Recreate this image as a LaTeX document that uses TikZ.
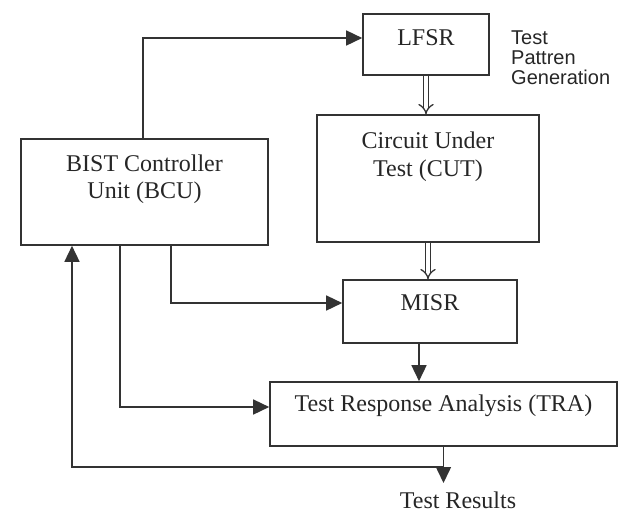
\documentclass[tikz,border=0pt]{standalone}
\usepackage{fontspec}
\setmainfont{Liberation Serif}
\newfontfamily\notefont{Liberation Sans}
\usetikzlibrary{arrows.meta,positioning,calc}
\definecolor{bsink}{HTML}{262626}
\definecolor{bsline}{HTML}{333333}
\tikzset{
  bsBox/.style 2 args={draw=bsline, line width=1.6pt, minimum width=#1pt, minimum height=#2pt, inner sep=0pt},
  boxText/.style={font=\fontsize{24}{27.5}\selectfont, text=bsink, align=center},
  ctlArrow/.style={-{Triangle[length=16pt,width=15pt]}, line width=1.5pt, draw=bsline},
  dblArrow/.style={-{Implies}, double=white, double distance=4pt, line width=1.3pt, draw=bsline},
  noteLabel/.style={font=\notefont\fontsize{20}{20}\selectfont, text=bsink, align=left, inner sep=0pt}
}
\begin{document}
\begin{tikzpicture}[x=1pt,y=-1pt]
  \useasboundingbox (0,0) rectangle (629,515);
  % blocks
  \node[bsBox={126}{61}, label={[boxText, yshift=6.5pt]center:LFSR}] (lfsr) at (426,44.5) {};
  \node[bsBox={222}{127}, label={[boxText, yshift=22pt]center:Circuit Under\\Test (CUT)}] (cut) at (428,178.5) {};
  \node[bsBox={247}{106}, label={[boxText, yshift=13pt]center:BIST Controller\\Unit (BCU)}] (bcu) at (144.5,192) {};
  \node[bsBox={174}{63}, label={[boxText, yshift=8.5pt]center:MISR}] (misr) at (430,311.5) {};
  \node[bsBox={347}{64}, label={[boxText, yshift=8pt]center:Test Response Analysis (TRA)}] (tra) at (443.5,414) {};
  \node[noteLabel, anchor=north west] (tpg) at (511,31) {Test\\Pattren\\Generation};
  \node[boxText, anchor=north, inner sep=0pt] (res) at (458,492) {Test Results};
  \coordinate (out) at (443.5,483);
  \coordinate (fb) at (443.5,467);
  % data path
  \draw[dblArrow] (lfsr.south) -- (lfsr.south |- cut.north);
  \draw[dblArrow] (cut.south) -- (cut.south |- misr.north);
  \draw[ctlArrow] ([xshift=-11pt]misr.south) -- ([xshift=-11pt]misr.south |- tra.north);
  \draw[ctlArrow] (tra.south) -- (out);
  % control lines
  \draw[ctlArrow] ([xshift=-1.5pt]bcu.north) |- ([yshift=6.5pt]lfsr.west);
  \draw[ctlArrow] ([xshift=26.5pt]bcu.south) |- ([yshift=8.5pt]misr.west);
  \draw[ctlArrow] ([xshift=-24.5pt]bcu.south) |- ([yshift=7pt]tra.west);
  \draw[ctlArrow] (fb) -| ([xshift=-72.5pt]bcu.south);
\end{tikzpicture}
\end{document}
